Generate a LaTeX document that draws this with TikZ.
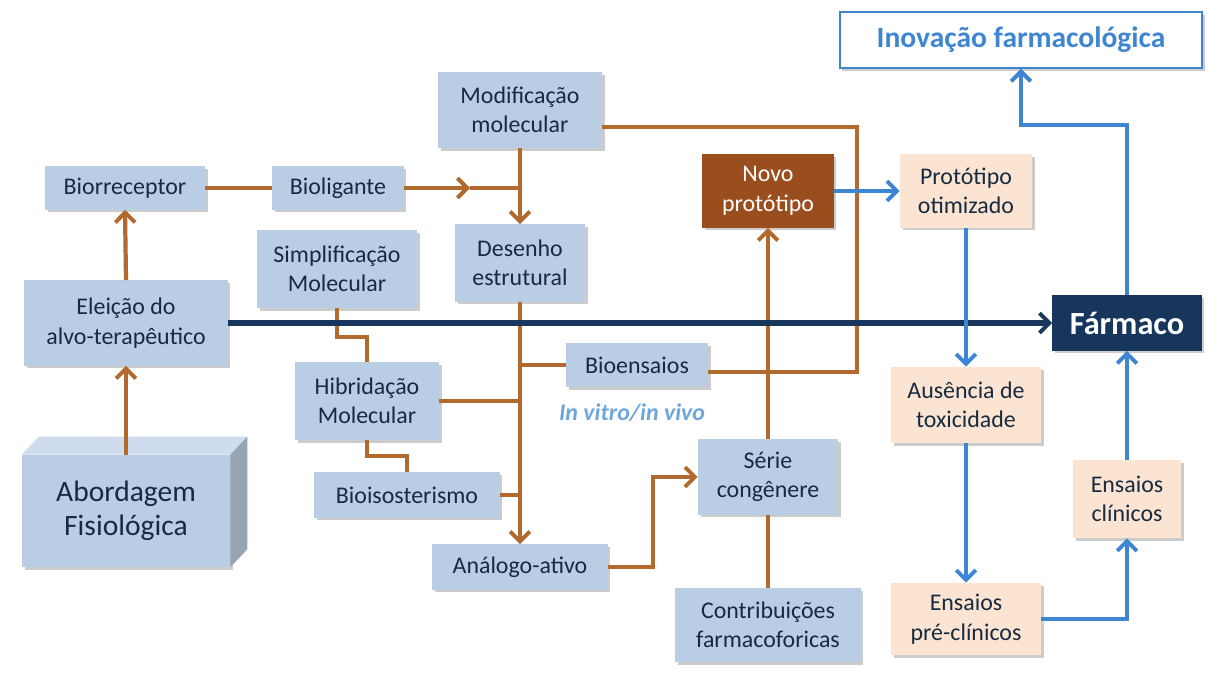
\documentclass[tikz,border=0pt]{standalone}
\usepackage{fontspec}
\setmainfont{Carlito}
\usetikzlibrary{arrows.meta,shadows}

\definecolor{boxblue}{HTML}{B9CDE5}
\definecolor{boxtext}{HTML}{172A40}
\definecolor{brownline}{HTML}{B2692E}
\definecolor{brownbox}{HTML}{9A4E1D}
\definecolor{blueline}{HTML}{3E86D2}
\definecolor{lightblue}{HTML}{6EA6DC}
\definecolor{navy}{HTML}{16365C}
\definecolor{peach}{HTML}{FBE4D2}

\tikzset{
  box/.style={fill=boxblue, text=boxtext, align=center, inner sep=2pt,
    font=\fontsize{17}{21}\selectfont,
    drop shadow={shadow xshift=1.8pt, shadow yshift=-1.8pt, opacity=0.4}},
  stagebox/.style={box, fill=peach},
  brownflow/.style={draw=brownline, line width=3pt},
  blueflow/.style={draw=blueline, line width=3pt},
  navyflow/.style={draw=navy, line width=3.6pt},
  barb/.style={-{Straight Barb[length=7pt,width=14pt,line width=2.8pt]}}
}

\begin{document}
\begin{tikzpicture}[x=0.025cm,y=-0.025cm]
  \useasboundingbox (0,0) rectangle (1210,674);

  % left column
  \node[box, minimum width=5.2cm, minimum height=2.8cm,
        font=\fontsize{21}{24}\selectfont] (abordagem) at (126,511) {Abordagem\\Fisiológica};
  \fill[boxblue!70!white] (abordagem.north west) -- ++(17,-18) -- ([xshift=17*0.025cm,yshift=18*0.025cm]abordagem.north east) -- (abordagem.north east) -- cycle;
  \fill[boxblue!75!black!90] (abordagem.north east) -- ++(17,-18) -- ([xshift=17*0.025cm,yshift=18*0.025cm]abordagem.south east) -- (abordagem.south east) -- cycle;
  \node[box, minimum width=5.075cm, minimum height=2.125cm] (eleicao) at (126,323) {Eleição do\\alvo-terapêutico};
  \node[box, minimum width=4cm, minimum height=1.075cm] (biorreceptor) at (125,188) {Biorreceptor};

  % middle
  \node[box, minimum width=3.275cm, minimum height=1.075cm] (bioligante) at (338,188) {Bioligante};
  \node[box, minimum width=4.1cm, minimum height=1.9cm] (modificacao) at (520,110) {Modificação\\molecular};
  \node[box, minimum width=3.25cm, minimum height=1.925cm] (desenho) at (520,263) {Desenho\\estrutural};
  \node[box, minimum width=4cm, minimum height=1.95cm] (simplificacao) at (337,269) {Simplificação\\Molecular};
  \node[box, minimum width=3.6cm, minimum height=1.95cm] (hibridacao) at (367,401) {Hibridação\\Molecular};
  \node[box, minimum width=4.625cm, minimum height=1.125cm] (bioisosterismo) at (407,495) {Bioisosterismo};
  \node[box, minimum width=3.55cm, minimum height=1.1cm] (bioensaios) at (637,365) {Bioensaios};
  \node[text=lightblue, font=\fontsize{17}{21}\selectfont\bfseries\itshape] (invitro) at (632,413) {In vitro/in vivo};
  \node[box, minimum width=4.375cm, minimum height=1.125cm] (analogo) at (520,567) {Análogo-ativo};
  \node[box, fill=brownbox, text=white, minimum width=3.275cm, minimum height=1.825cm] (novo) at (768,191) {Novo\\protótipo};
  \node[box, minimum width=3.5cm, minimum height=1.875cm] (serie) at (768,477) {Série\\congênere};
  \node[box, minimum width=4.625cm, minimum height=1.85cm] (contribuicoes) at (768,625) {Contribuições\\farmacoforicas};

  % right
  \node[stagebox, minimum width=3.3cm, minimum height=1.825cm] (otimizado) at (966,191) {Protótipo\\otimizado};
  \node[stagebox, minimum width=3.75cm, minimum height=1.9cm] (ausencia) at (966,405) {Ausência de\\toxicidade};
  \node[stagebox, minimum width=3.75cm, minimum height=1.8cm] (preclinicos) at (966,619) {Ensaios\\pré-clínicos};
  \node[stagebox, minimum width=2.7cm, minimum height=1.95cm] (clinicos) at (1127,499) {Ensaios\\clínicos};
  \node[box, fill=navy, text=white, minimum width=3.725cm, minimum height=1.375cm,
        font=\fontsize{23}{26}\selectfont\bfseries] (farmaco) at (1127,323) {Fármaco};
  \node[box, fill=white, draw=blueline, line width=1pt, text=blueline, minimum width=9.05cm, minimum height=1.4cm,
        font=\fontsize{21}{24}\selectfont\bfseries] (inovacao) at (1021,40) {Inovação farmacológica};

  % brown connectors
  \coordinate (midtip) at (470,188);
  \coordinate (loopa) at (857,127);
  \coordinate (loopb) at (857,372);
  \coordinate (bend) at (653,567);
  \draw[brownflow,barb] (abordagem.north) -- (eleicao.south);
  \draw[brownflow,barb] (eleicao.north) -- (biorreceptor.south);
  \draw[brownflow] (biorreceptor) -- (bioligante);
  \draw[brownflow,barb] (bioligante.east) -- (midtip);
  \draw[brownflow] (midtip) -- (midtip -| desenho.north);
  \draw[brownflow,barb] (modificacao.south) -- (desenho.north);
  \draw[brownflow] (modificacao.east |- loopa) -- (loopa) -- (loopb) -- (bioensaios.east |- loopb);
  \draw[brownflow,barb] (desenho.south) -- (analogo.north);
  \draw[brownflow] (bioensaios.west) -- (bioensaios.west -| desenho.south);
  \draw[brownflow] (hibridacao.east) -- (hibridacao.east -| desenho.south);
  \draw[brownflow] (bioisosterismo.east) -- (bioisosterismo.east -| desenho.south);
  \draw[brownflow] (simplificacao.south) -- ++(0,29) -| (hibridacao.north);
  \draw[brownflow] (hibridacao.south) -- ++(0,16) -| (bioisosterismo.north);
  \draw[brownflow,barb] (analogo.east) -- (bend) |- (serie.west);
  \draw[brownflow,barb] (serie.north) -- (novo.south);
  \draw[brownflow] (contribuicoes.north) -- (serie.south);

  % main line
  \draw[navyflow,barb] (eleicao.east) -- (farmaco.west);

  % blue connectors
  \coordinate (topbend) at (1127,125);
  \draw[blueflow,barb] (novo.east) -- (otimizado.west);
  \draw[blueflow,barb] (otimizado.south) -- (ausencia.north);
  \draw[blueflow,barb] (ausencia.south) -- (preclinicos.north);
  \draw[blueflow,barb] (preclinicos.east) -| (clinicos.south);
  \draw[blueflow,barb] (clinicos.north) -- (farmaco.south);
  \draw[blueflow,barb] (farmaco.north) -- (topbend) -| (inovacao.south);
\end{tikzpicture}
\end{document}
